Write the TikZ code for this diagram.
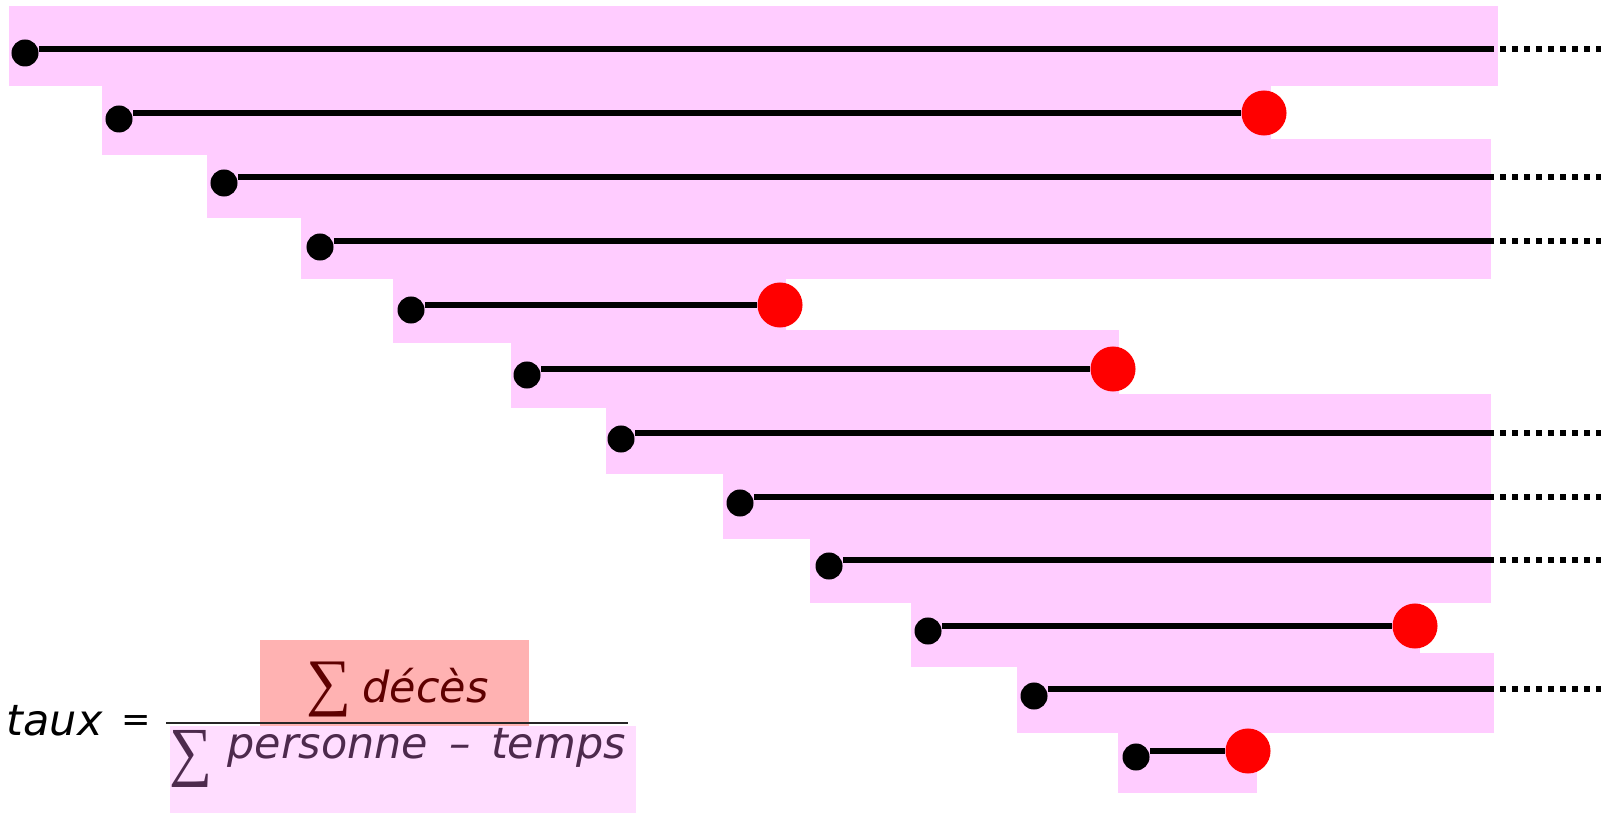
\documentclass[tikz,border=0pt]{standalone}
\usepackage{fontspec}
\setmainfont{DejaVu Sans}
\newfontfamily\sigmafont{Liberation Serif}
\usepackage{graphicx}
\usepackage{tikz}
\usepackage{xcolor}
\definecolor{bandpink}{RGB}{255, 204, 255}
\definecolor{numbg}{RGB}{255, 178, 178}
\definecolor{denbg}{RGB}{255, 221, 255}
\definecolor{numtext}{RGB}{94, 0, 0}
\definecolor{dentext}{RGB}{77, 42, 77}
\definecolor{deathred}{RGB}{255, 0, 0}

\begin{document}
\begin{tikzpicture}[x=0.01cm, y=-0.01cm,
    band/.style={fill=bandpink},
    startdot/.style={circle, fill=black, inner sep=0pt, minimum size=0.27cm},
    deathdot/.style={circle, fill=deathred, inner sep=0pt, minimum size=0.45cm},
    lifeline/.style={line width=0.6mm, black},
    followup/.style={line width=0.6mm, black, dash pattern=on 0.6mm off 0.6mm, dash phase=0.6mm},
    formula/.style={inner sep=0pt, font=\fontsize{12.2}{14}\selectfont\itshape},
    sigma/.style={inner sep=0pt, font=\sigmafont},
    fracbox/.style={inner sep=0pt, minimum height=0.87cm}]
      \useasboundingbox (0,0) rectangle (1601,813);
      \coordinate (edge) at (1601,0);

      % bands of person-time
      \fill[band] (9,6) rectangle (1498,86);
      \fill[band] (102,86) rectangle (1271,155);
      \fill[band] (207,139) rectangle (1491,218);
      \fill[band] (301,218) rectangle (1491,279);
      \fill[band] (393,279) rectangle (786,343);
      \fill[band] (511,330) rectangle (1119,408);
      \fill[band] (606,394) rectangle (1491,474);
      \fill[band] (723,474) rectangle (1491,539);
      \fill[band] (810,539) rectangle (1491,603);
      \fill[band] (911,602) rectangle (1420,667);
      \fill[band] (1017,653) rectangle (1494,733);
      \fill[band] (1118,732) rectangle (1257,793);

      % entries
      \node[startdot] (s1) at (25,53) {};
      \node[startdot] (s2) at (119,119) {};
      \node[startdot] (s3) at (224,183) {};
      \node[startdot] (s4) at (320,247) {};
      \node[startdot] (s5) at (411,310) {};
      \node[startdot] (s6) at (527,375) {};
      \node[startdot] (s7) at (621,439) {};
      \node[startdot] (s8) at (740,503) {};
      \node[startdot] (s9) at (829,566) {};
      \node[startdot] (s10) at (928,631) {};
      \node[startdot] (s11) at (1034,696) {};
      \node[startdot] (s12) at (1136,757) {};

      % still followed
      \coordinate (e1) at (1494,49);
      \coordinate (e3) at (1494,177);
      \coordinate (e4) at (1494,241);
      \coordinate (e7) at (1494,433);
      \coordinate (e8) at (1494,497);
      \coordinate (e9) at (1494,560);
      \coordinate (e11) at (1494,689);

      \draw[lifeline] (s1.east |- e1) -- (e1);
      \draw[lifeline] (s3.east |- e3) -- (e3);
      \draw[lifeline] (s4.east |- e4) -- (e4);
      \draw[lifeline] (s7.east |- e7) -- (e7);
      \draw[lifeline] (s8.east |- e8) -- (e8);
      \draw[lifeline] (s9.east |- e9) -- (e9);
      \draw[lifeline] (s11.east |- e11) -- (e11);

      \draw[followup] (e1) -- (e1 -| edge);
      \draw[followup] (e3) -- (e3 -| edge);
      \draw[followup] (e4) -- (e4 -| edge);
      \draw[followup] (e7) -- (e7 -| edge);
      \draw[followup] (e8) -- (e8 -| edge);
      \draw[followup] (e9) -- (e9 -| edge);
      \draw[followup] (e11) -- (e11 -| edge);

      % deaths
      \node[deathdot] (d2) at (1264,113) {};
      \node[deathdot] (d5) at (780,305) {};
      \node[deathdot] (d6) at (1113,369) {};
      \node[deathdot] (d10) at (1415,626) {};
      \node[deathdot] (d12) at (1248,751) {};

      \draw[lifeline] (s2.east |- d2) -- (d2.west);
      \draw[lifeline] (s5.east |- d5) -- (d5.west);
      \draw[lifeline] (s6.east |- d6) -- (d6.west);
      \draw[lifeline] (s10.east |- d10) -- (d10.west);
      \draw[lifeline] (s12.east |- d12) -- (d12.west);

      % rate
      \node[fracbox, fill=numbg, minimum width=2.69cm] (numbox) at (394.5,683.5) {};
      \node[fracbox, fill=denbg, minimum width=4.66cm] (denbox) at (403,769.5) {};
      \coordinate (barl) at (166,723);
      \coordinate (barr) at (628,723);
      \draw[line width=0.6pt, black!85] (barl) -- (barr);

      \node[formula, anchor=base west] (taux) at (6,735) {taux};
      \node[inner sep=0pt, font=\fontsize{10}{12}\selectfont] (equal) at (136,724) {=};
      \node[sigma, text=numtext] (sum1) at (329.5,689.5) {\resizebox*{0.45cm}{0.55cm}{∑}};
      \node[formula, text=numtext, anchor=base west] (deces) at (362,702) {décès};
      \node[sigma, text=dentext] (sum2) at (191.5,758.5) {\resizebox*{0.43cm}{0.57cm}{∑}};
      \node[formula, text=dentext, anchor=base west] (pt) at (227,758) {personne\hspace{0.07cm} – \hspace{0.07cm}temps};
\end{tikzpicture}
\end{document}
